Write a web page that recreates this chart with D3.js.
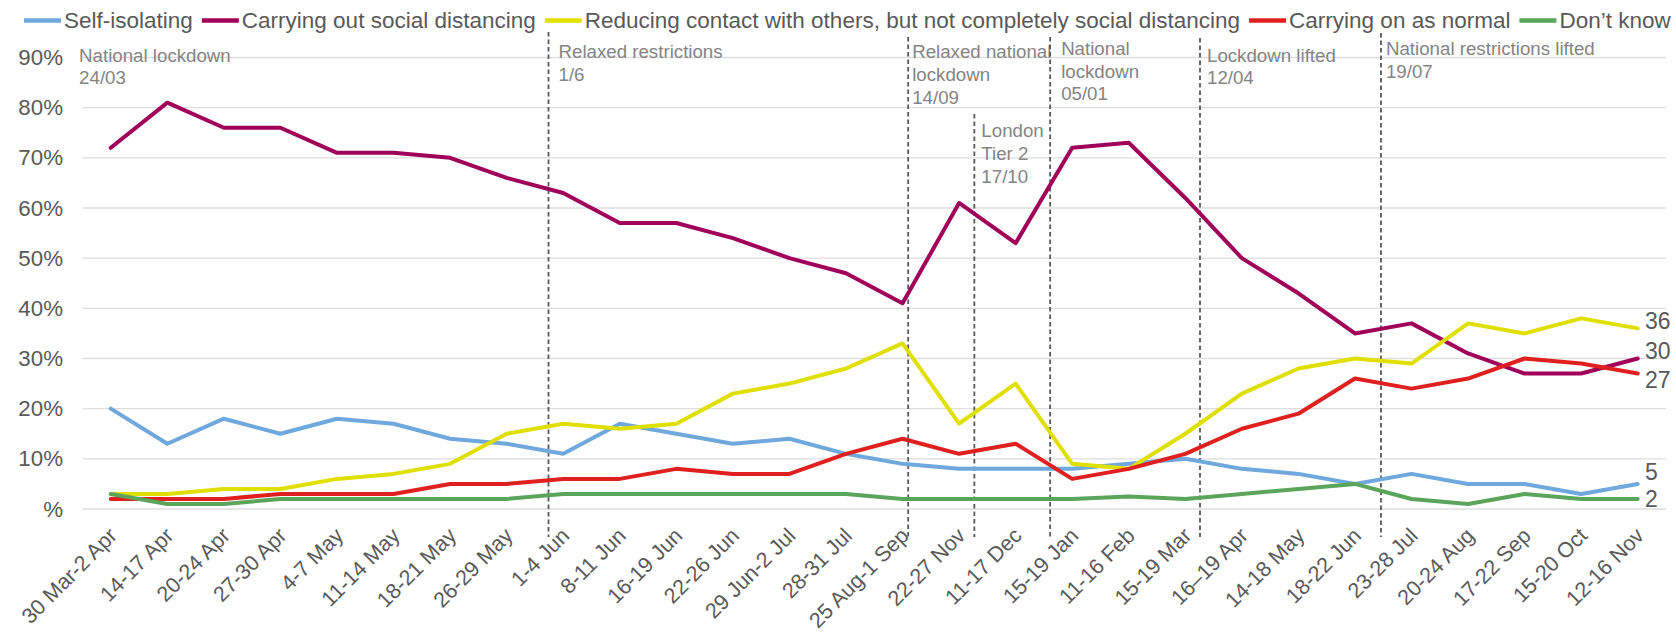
<!DOCTYPE html>
<html><head><meta charset="utf-8">
<script src="https://cdn.jsdelivr.net/npm/d3@7"></script>
<style>
html,body{margin:0;padding:0;background:#fff;}
svg{display:block;font-family:"Liberation Sans",Arial,Helvetica,sans-serif;}
</style></head><body>
<svg id="chart" width="1676" height="634"></svg>
<script>
// Survey waves (x axis)
const categories = ["30 Mar-2 Apr","14-17 Apr","20-24 Apr","27-30 Apr","4-7 May","11-14 May","18-21 May","26-29 May",
  "1-4 Jun","8-11 Jun","16-19 Jun","22-26 Jun","29 Jun-2 Jul","28-31 Jul","25 Aug-1 Sep","22-27 Nov","11-17 Dec",
  "15-19 Jan","11-16 Feb","15-19 Mar","16\u201319 Apr","14-18 May","18-22 Jun","23-28 Jul","20-24 Aug","17-22 Sep",
  "15-20 Oct","12-16 Nov"];

// Share of respondents (%) per wave
const selfIsolating   = [20,13,18,15,18,17,14,13,11,17,15,13,14,11,9,8,8,8,9,10,8,7,5,7,5,5,3,5];
const socialDistancing= [72,81,76,76,71,71,70,66,63,57,57,54,50,47,41,61,53,72,73,62,50,43,35,37,31,27,27,30];
const reducingContact = [3,3,4,4,6,7,9,15,17,16,17,23,25,28,33,17,25,9,8,15,23,28,30,29,37,35,38,36];
const carryingOn      = [2,2,2,3,3,3,5,5,6,6,8,7,7,11,14,11,13,6,8,11,16,19,26,24,26,30,29,27];
const dontKnow        = [3,1,1,2,2,2,2,2,3,3,3,3,3,3,2,2,2,2,2.5,2,3,4,5,2,1,3,2,2];

const seriesNames = ["Self-isolating","Carrying out social distancing",
  "Reducing contact with others, but not completely social distancing","Carrying on as normal","Don\u2019t know"];
const seriesValues = [selfIsolating, socialDistancing, reducingContact, carryingOn, dontKnow];
const seriesColors = ["#6fa8dc","#a0005a","#dfdf00","#e0201f","#5ba55b"];

// Y axis ticks
const yTicks = [0,10,20,30,40,50,60,70,80,90];
const yTickLabels = ["%","10%","20%","30%","40%","50%","60%","70%","80%","90%"];

// Policy events, placed between survey waves (position in wave units)
const eventLabels = [
  ["National lockdown","24/03"],
  ["Relaxed restrictions","1/6"],
  ["Relaxed national","lockdown","14/09"],
  ["London","Tier 2","17/10"],
  ["National","lockdown","05/01"],
  ["Lockdown lifted","12/04"],
  ["National restrictions lifted","19/07"]
];
const eventAt = [-0.56, 7.74, 14.1, 15.27, 16.61, 19.26, 22.46];

// ---- layout ----
const svg = d3.select("#chart");
const plotLeft = 82.5, plotRight = 1666, yBottom = 509, yTop = 57.5;
const textColor = "#595959";

const x = d3.scalePoint().domain(categories).range([plotLeft, plotRight]).padding(0.5);
const step = x.step();
const xAt = v => x(categories[0]) + v * step;
const y = d3.scaleLinear().domain([0, 90]).range([yBottom, yTop]);

// gridlines
svg.append("g").selectAll("line").data(yTicks).join("line")
  .attr("x1", plotLeft).attr("x2", plotRight)
  .attr("y1", d => y(d)).attr("y2", d => y(d))
  .attr("stroke", "#dedede").attr("stroke-width", 1.3);

// y axis
const yAxis = d3.axisLeft(y).tickValues(yTicks)
  .tickFormat((d, i) => yTickLabels[i]).tickSize(0).tickPadding(0);
svg.append("g").attr("transform", "translate(63,0)").call(yAxis)
  .call(g => g.select(".domain").remove())
  .call(g => g.selectAll("text").attr("fill", textColor)
    .style("font-size", "22.3px").style("font-family", "Liberation Sans, Arial, sans-serif"));

// x axis (rotated labels)
const xAxis = d3.axisBottom(x).tickSize(0).tickPadding(0);
svg.append("g").attr("transform", `translate(0,${yBottom})`).call(xAxis)
  .call(g => g.select(".domain").remove())
  .call(g => g.selectAll("text")
    .attr("fill", textColor)
    .style("font-size", "21.5px").style("font-family", "Liberation Sans, Arial, sans-serif")
    .attr("text-anchor", "end").attr("dy", null).attr("y", null)
    .attr("transform", "translate(7,28) rotate(-45)"));

// event rules and notes
const ruleTop = [null, 32, 37, 114, 37, 38, 33];
const noteTop = [55, 51.7, 51.7, 130.7, 48.3, 55, 48.3];
const noteDx = [0, 10, 4, 7, 11, 7, 5];
const ev = svg.append("g");
eventLabels.forEach((lines, i) => {
  const ex = xAt(eventAt[i]);
  if (ruleTop[i] !== null) {
    ev.append("line").attr("x1", ex).attr("x2", ex)
      .attr("y1", ruleTop[i]).attr("y2", 537)
      .attr("stroke", "#595959").attr("stroke-width", 1.8)
      .attr("stroke-dasharray", "4.5,3");
  }
  const t = ev.append("text").attr("fill", "#848484").style("font-size", "18.7px");
  lines.forEach((s, k) => {
    t.append("tspan").attr("x", ex + noteDx[i]).attr("y", noteTop[i] + k * 22.8)
      .attr("dy", "0.35em").text(s);
  });
});

// series lines
const line = d3.line().x((d, i) => x(categories[i])).y(d => y(d));
svg.append("g").selectAll("path").data(seriesValues).join("path")
  .attr("d", d => line(d))
  .attr("fill", "none")
  .attr("stroke", (d, i) => seriesColors[i])
  .attr("stroke-width", 4)
  .attr("stroke-linejoin", "round")
  .attr("stroke-linecap", "round");

// end-of-line value labels
const endNudge = [-12, -7.5, -7, 6.5, 0];
svg.append("g").selectAll("text").data(seriesValues).join("text")
  .attr("x", 1645)
  .attr("y", (d, i) => y(d[d.length - 1]) + endNudge[i])
  .attr("dy", "0.35em")
  .attr("fill", textColor).style("font-size", "23px")
  .text(d => d[d.length - 1]);

// legend
const lg = svg.append("g");
let lx = 24;
seriesNames.forEach((name, i) => {
  lg.append("line").attr("x1", lx).attr("x2", lx + 37).attr("y1", 20.5).attr("y2", 20.5)
    .attr("stroke", seriesColors[i]).attr("stroke-width", 4.5);
  const t = lg.append("text").attr("x", lx + 40).attr("y", 20.5).attr("dy", "0.35em")
    .attr("fill", textColor).style("font-size", "22.5px").text(name);
  lx += 40 + t.node().getComputedTextLength() + 9;
});
</script>
</body></html>
